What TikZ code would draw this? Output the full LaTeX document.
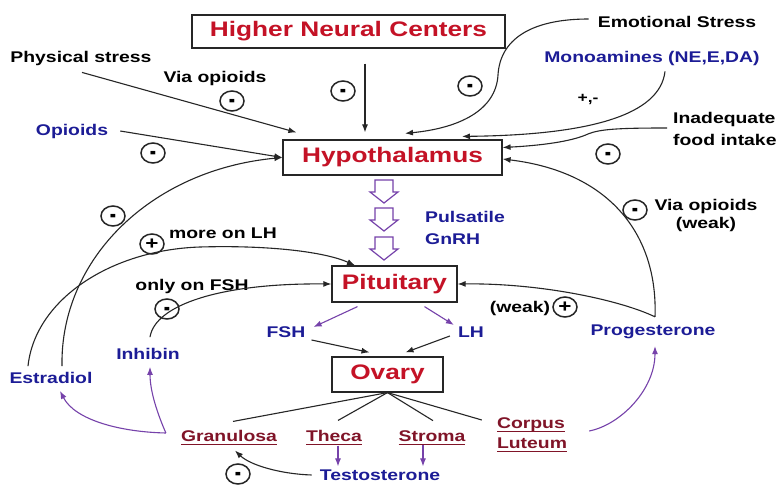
\documentclass[tikz,border=0pt]{standalone}
\usepackage{fontspec}
\setmainfont{Liberation Sans}[FakeStretch=1.25]
\usetikzlibrary{arrows.meta,shapes.geometric,calc}
\definecolor{hred}{RGB}{196,18,38}
\definecolor{hblue}{RGB}{28,28,150}
\definecolor{hpurple}{RGB}{118,66,170}
\definecolor{hdred}{RGB}{128,20,40}
\newcommand\myul[1]{\setbox0=\hbox{#1}\leavevmode\rlap{\rule[-3.5pt]{\wd0}{1.6pt}}\box0}
\newcommand\mymin{\raisebox{-7pt}[0pt][0pt]{\scalebox{1}[1.9]{-}}}
\begin{document}
\begin{tikzpicture}[x=1pt,y=-1pt,
  box/.style={draw=black!85, line width=1.2pt, fill=white, inner sep=0pt, font=\bfseries\fontsize{21}{24}\selectfont, text=hred},
  lbl/.style={inner sep=0pt, font=\bfseries\fontsize{15.5}{19}\selectfont, text=black},
  blu/.style={lbl, text=hblue},
  cell/.style={lbl, text=hdred},
  sgn/.style={draw=black!85, ellipse, line width=1.5pt, minimum width=24pt, minimum height=20pt, inner sep=0pt, font=\bfseries\fontsize{15}{15}\selectfont},
  blk/.style={line width=1.1pt, draw=black!85, -{Latex[length=8pt,width=6pt]}},
  prp/.style={line width=1.1pt, draw=hpurple, -{Latex[length=8pt,width=6pt]}},
  ln/.style={line width=1.1pt, draw=black!85},
  hollow/.style={draw=hpurple, line width=1.2pt, fill=white, line join=miter}]
\useasboundingbox[fill=white] (0,0) rectangle (780,487);

% boxes
\node[box, minimum width=313pt, minimum height=33pt] (hnc) at (348.5,31.5) {Higher Neural Centers};
\node[box, minimum width=219pt, minimum height=35pt] (hyp) at (392.5,157.5) {Hypothalamus};
\node[box, minimum width=125pt, minimum height=36pt] (pit) at (394.5,284) {Pituitary};
\node[box, minimum width=111pt, minimum height=35pt] (ova) at (387.5,374.5) {Ovary};

% labels
\node[lbl] (phys) at (81,58) {Physical stress};
\node[lbl] (viaop) at (215,78) {Via opioids};
\node[blu] (opi) at (72,131) {Opioids};
\node[lbl] (emo) at (677,22) {Emotional Stress};
\node[blu] (mono) at (652,58) {Monoamines (NE,E,DA)};
\node[lbl, font=\bfseries\fontsize{14}{16}\selectfont] (pm) at (588,99) {+,-};
\node[lbl, align=left, anchor=west, font=\bfseries\fontsize{15.5}{22}\selectfont] (food) at (673,129) {Inadequate\\food intake};
\node[blu, align=left, anchor=west, font=\bfseries\fontsize{15.5}{22}\selectfont] (gnrh) at (425,228) {Pulsatile\\GnRH};
\node[lbl, align=center, font=\bfseries\fontsize{15.5}{18}\selectfont] (viaw) at (706,215) {Via opioids\\(weak)};
\node[lbl] (morelh) at (223,233) {more on LH};
\node[lbl] (onlyfsh) at (192,286) {only on FSH};
\node[lbl] (weak) at (520,308) {(weak)};
\node[blu] (fsh) at (286,332) {FSH};
\node[blu] (lh) at (471,332) {LH};
\node[blu] (prog) at (653,332) {Progesterone};
\node[blu] (inh) at (148,354) {Inhibin};
\node[blu] (estr) at (51,378) {Estradiol};
\node[cell] (gran) at (229,438) {\myul{Granulosa}};
\node[cell] (theca) at (334,438) {\myul{Theca}};
\node[cell] (stroma) at (432,438) {\myul{Stroma}};
\node[cell, align=left, font=\bfseries\fontsize{15.5}{20}\selectfont] (corp) at (532,435) {\myul{Corpus}\\\myul{Luteum}};
\node[blu] (test) at (380,475) {Testosterone};

% signs
\node[sgn] (s1) at (343,91) {\mymin};
\node[sgn] (s2) at (232,101) {\mymin};
\node[sgn] (s3) at (153,153) {\mymin};
\node[sgn] (s4) at (470,86) {\mymin};
\node[sgn] (s5) at (608,154) {\mymin};
\node[sgn] (s6) at (113,216) {\mymin};
\node[sgn, font=\bfseries\fontsize{18}{18}\selectfont] (s7) at (152,244) {+};
\node[sgn] (s8) at (167,309) {\mymin};
\node[sgn] (s9) at (635,210) {\mymin};
\node[sgn, font=\bfseries\fontsize{18}{18}\selectfont] (s10) at (565,307) {+};
\node[sgn] (s11) at (238,474) {\mymin};

% hollow GnRH arrows
\foreach \y in {180,208,237}
  \draw[hollow] (375,\y) -- (393,\y) -- (393,\y+12) -- (398,\y+12) -- (384,\y+23) -- (370,\y+12) -- (375,\y+12) -- cycle;

% inputs to hypothalamus
\draw[blk] ($(hnc.south)+(16.5,15)$) -- ($(hyp.north)+(-27.5,-7)$);
\draw[blk] ($(phys.south)+(1,7)$) -- ($(hyp.north west)+(14,-7)$);
\draw[blk] ($(opi.east)+(12,0)$) -- (hyp.west);
\draw[blk] ($(estr.north)+(11,-6)$) .. controls (60,260) and (150,170) .. (hyp.west);
\draw[blk] ($(emo.west)+(-9,-3)$) .. controls (530,19) and (500,40) .. (498,75)
  .. controls (496,110) and (460,128) .. ($(hyp.north)+(12.5,-6)$);
\draw[blk] ($(mono.south)+(13,6)$) .. controls (660,115) and (590,135) .. ($(hyp.north)+(69.5,-3)$);
\draw[blk] ($(food.west)+(-6,-1)$) .. controls (620,128) and (600,129) .. (588,134)
  .. controls (575,140) and (550,145) .. ($(hyp.east)+(0,-10)$);
\draw[blk] ($(prog.north)+(2,-8)$) .. controls (658,235) and (610,172) .. ($(hyp.east)+(0,1.5)$);

% inputs to pituitary
\draw[blk] ($(prog.north)+(2,-8)$) .. controls (620,300) and (540,283) .. (pit.east);
\draw[blk] ($(estr.north)+(-23,-6)$) .. controls (35,300) and (110,250) .. (200,247)
  .. controls (270,245) and (325,252) .. ($(pit.north)+(-39.5,0)$);
\draw[blk] ($(inh.north)+(2,-11)$) .. controls (155,305) and (220,283) .. (pit.west);

% pituitary to ovary
\draw[prp] ($(pit.south)+(-37,4)$) -- ($(fsh.east)+(8,-5)$);
\draw[prp] ($(pit.south)+(30,4)$) -- ($(lh.west)+(-4,-7)$);
\draw[blk] ($(fsh.east)+(6,8)$) -- ($(ova.north)+(-18,-4)$);
\draw[blk] ($(lh.west)+(-8,4)$) -- ($(ova.north)+(18,-4)$);

% ovary compartments
\draw[ln] (ova.south) -- ($(gran.north)+(4,-9)$);
\draw[ln] (ova.south) -- ($(theca.north)+(4,-10)$);
\draw[ln] (ova.south) -- ($(stroma.north)+(1,-10)$);
\draw[ln] (ova.south) -- ($(corp.west)+(-15,-15)$);

% products
\draw[prp] ($(gran.west)+(-15,-5)$) .. controls (120,432) and (75,420) .. ($(estr.south)+(9,7)$);
\draw[prp] ($(gran.west)+(-15,-5)$) .. controls (158,415) and (150,392) .. ($(inh.south)+(2,7)$);
\draw[prp] ($(theca.south)+(4,0)$) -- ($(test.north)+(-42,-3)$);
\draw[prp] ($(stroma.south)+(-9,0)$) -- ($(test.north)+(43,-3)$);
\draw[prp] ($(corp.east)+(22,-4)$) .. controls (620,425) and (655,390) .. ($(prog.south)+(2,7)$);
\draw[blk] ($(test.west)+(-8,0)$) .. controls (280,474) and (250,465) .. ($(gran.south)+(6,5)$);
\end{tikzpicture}
\end{document}
